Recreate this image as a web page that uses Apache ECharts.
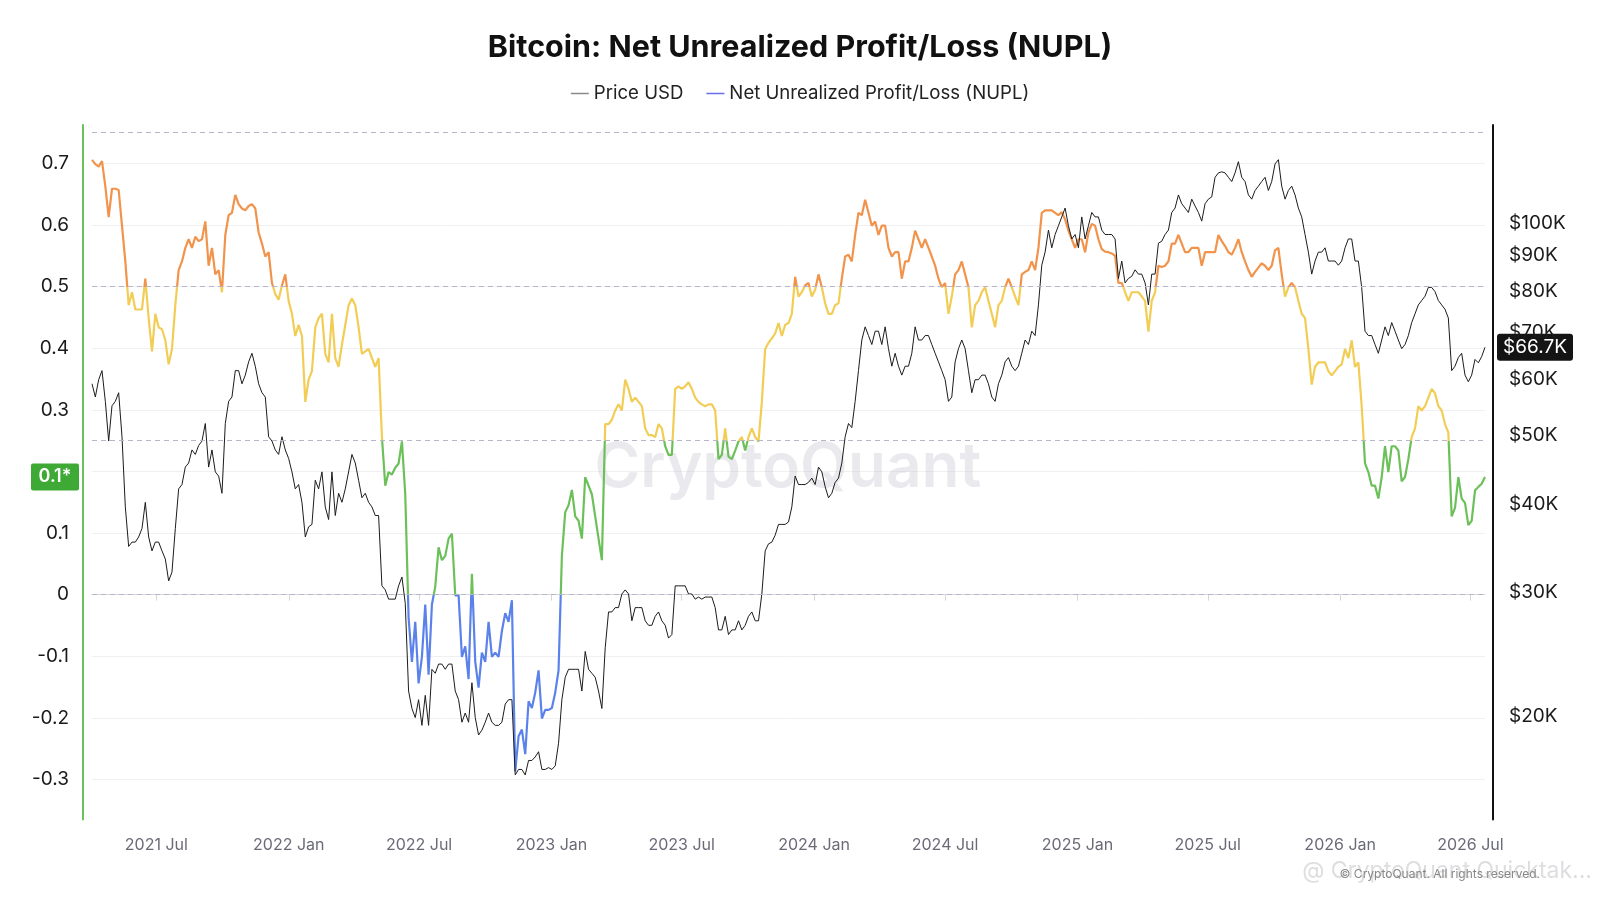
<!DOCTYPE html>
<html>
<head>
<meta charset="utf-8">
<title>Bitcoin NUPL</title>
<script src="https://cdn.jsdelivr.net/npm/echarts@6/dist/echarts.min.js"></script>
<style>
  html, body { margin: 0; padding: 0; background: #fff; }
  #chart { width: 1600px; height: 900px; }
</style>
</head>
<body>
<div id="chart"></div>
<script>
// sampling: first point 2021-04-02, one point every ~4.63 days
const startDate = Date.UTC(2021, 3, 2, 12);
const stepDays = 4.631;

// NUPL values
const nupl = [
  0.706,0.699,0.695,0.704,0.663,0.613,0.659,0.659,0.657,0.599,
  0.541,0.470,0.491,0.463,0.463,0.463,0.513,0.449,0.395,0.456,
  0.434,0.431,0.413,0.374,0.399,0.470,0.527,0.541,0.563,0.577,
  0.563,0.581,0.574,0.577,0.606,0.534,0.563,0.520,0.527,0.491,
  0.584,0.616,0.620,0.649,0.634,0.627,0.624,0.631,0.634,0.627,
  0.588,0.570,0.549,0.556,0.506,0.488,0.479,0.502,0.520,0.477,
  0.456,0.420,0.438,0.420,0.313,0.349,0.363,0.434,0.449,0.456,
  0.391,0.377,0.456,0.384,0.370,0.406,0.438,0.470,0.481,0.470,
  0.434,0.391,0.395,0.399,0.384,0.370,0.384,0.256,0.177,0.199,
  0.195,0.206,0.213,0.249,0.163,-0.037,-0.109,-0.044,-0.144,
  -0.101,-0.016,-0.130,-0.016,0.013,0.077,0.056,0.063,0.091,0.099,
  -0.001,-0.001,-0.101,-0.084,-0.137,0.034,-0.109,-0.151,-0.094,-0.109,
  -0.044,-0.101,-0.094,-0.101,-0.059,-0.030,-0.044,-0.009,-0.287,-0.230,
  -0.219,-0.259,-0.173,-0.184,-0.159,-0.123,-0.201,-0.187,-0.187,-0.184,
  -0.159,-0.123,0.063,0.134,0.145,0.170,0.127,0.120,0.091,0.191,
  0.177,0.163,0.127,0.091,0.056,0.277,0.277,0.284,0.299,0.309,
  0.299,0.349,0.334,0.313,0.320,0.313,0.306,0.270,0.259,0.259,
  0.256,0.277,0.270,0.241,0.227,0.227,0.334,0.338,0.334,0.338,
  0.345,0.334,0.320,0.313,0.309,0.306,0.309,0.309,0.299,0.220,
  0.227,0.270,0.224,0.220,0.234,0.249,0.256,0.234,0.256,0.270,
  0.256,0.249,
  0.313,0.399,0.409,0.416,0.424,0.441,0.420,0.438,0.441,0.456,
  0.516,0.484,0.491,0.502,0.506,0.484,0.495,0.520,0.499,0.473,
  0.456,0.456,0.470,0.473,0.513,0.549,0.552,0.541,0.584,0.620,
  0.616,0.641,0.620,0.599,0.606,0.584,0.599,0.599,0.563,0.549,
  0.556,0.556,0.513,0.541,0.541,0.563,0.591,0.577,0.563,0.577,
  0.563,0.549,0.534,0.513,0.499,0.506,0.456,0.484,0.520,0.527,
  0.541,0.520,0.499,0.434,0.470,0.477,0.491,0.499,0.477,0.456,
  0.434,0.470,0.477,0.499,0.513,0.499,0.484,0.470,0.520,0.524,
  0.527,0.541,0.527,0.563,0.620,0.624,0.624,0.624,0.620,0.616,
  0.621,0.609,0.591,0.577,0.563,0.577,0.577,0.556,0.588,0.602,
  0.599,0.577,
  0.561,0.557,0.556,0.554,0.550,0.506,0.506,0.491,0.477,0.491,
  0.491,0.491,0.484,0.477,0.427,0.477,0.491,0.534,0.532,0.534,
  0.541,0.570,0.570,0.584,0.570,0.556,0.556,0.563,0.563,0.563,
  0.534,0.556,0.556,0.556,0.556,0.584,0.574,0.566,0.556,0.552,
  0.563,0.577,0.556,0.541,0.527,0.516,0.524,0.531,0.538,0.534,
  0.527,0.534,0.559,0.563,0.520,0.484,0.499,0.506,0.499,0.477,
  0.456,0.449,0.399,0.341,0.370,0.377,0.377,0.377,0.363,0.356,
  0.363,0.370,0.374,0.399,0.384,0.413,0.370,0.377,0.306,0.213,
  0.199,0.177,0.177,0.156,0.191,0.241,0.199,0.241,0.241,0.234,
  0.184,0.191,0.220,0.256,0.270,0.306,0.299,0.306,0.320,0.334,
  0.327,0.306,0.299,0.277,0.263,0.127,0.141,0.191,0.156,0.149,
  0.113,0.120,0.169,0.175,0.180,0.191
];

// BTC price in thousands of USD, same dates
const priceK = [
  59.2,56.7,60.0,61.8,55.9,49.1,55.1,55.9,57.5,49.8,
  39.6,34.8,35.3,35.3,35.9,36.9,40.2,35.9,34.3,35.3,
  35.3,34.3,33.4,31.1,32.0,36.9,42.0,42.6,45.1,45.7,
  47.7,47.0,48.4,49.1,52.0,45.1,47.7,44.4,43.8,41.4,
  52.0,55.9,56.7,61.8,61.8,59.2,60.9,63.6,65.4,62.7,
  59.2,57.5,56.7,49.8,49.1,47.7,47.0,49.8,47.7,46.4,
  44.4,42.0,42.6,40.2,35.9,37.1,37.4,43.2,42.0,44.4,
  39.6,38.0,44.4,38.5,41.4,40.2,42.0,44.4,47.0,45.7,
  43.2,40.8,41.4,40.2,39.6,38.5,38.5,30.6,30.2,29.3,
  29.3,29.3,30.6,31.5,28.9,21.7,20.5,19.9,21.1,
  19.4,21.4,19.4,23.3,23.0,23.7,23.7,23.3,23.7,23.7,
  21.7,21.1,19.6,20.2,19.6,22.3,19.9,18.8,19.1,19.6,
  20.2,19.6,19.4,19.4,19.6,20.8,21.1,21.1,16.5,16.8,
  16.8,16.5,17.3,17.3,17.5,17.8,16.8,16.8,16.9,16.8,
  17.0,18.3,21.1,22.7,23.3,23.3,23.3,23.3,21.7,24.7,
  23.3,23.0,22.7,21.7,20.5,25.0,28.1,28.1,28.5,28.5,
  29.8,30.2,29.8,27.3,28.5,28.5,28.5,27.3,26.9,26.9,
  27.7,28.1,27.3,26.9,25.8,26.1,30.6,30.6,30.6,30.6,
  29.8,29.8,29.3,29.5,29.3,29.5,29.5,29.5,28.5,26.5,
  26.5,27.7,26.1,26.5,26.5,27.3,26.5,26.9,27.7,28.1,
  27.3,27.3,
  29.8,34.3,35.1,35.3,36.1,37.4,37.4,37.4,37.7,39.6,
  43.8,42.6,42.6,42.6,42.9,43.5,42.6,45.1,44.4,42.3,
  40.8,41.4,42.9,43.5,45.7,49.8,52.0,51.3,55.9,61.8,
  68.3,71.3,69.3,67.3,70.3,70.3,67.3,71.3,66.4,62.7,
  65.4,62.7,60.9,62.7,62.7,65.4,71.3,68.3,68.3,69.3,
  69.3,67.3,65.4,63.6,61.8,60.0,55.9,56.7,63.6,66.4,
  68.3,66.4,61.8,57.5,60.0,60.0,60.9,60.9,59.2,56.7,
  55.9,59.2,60.9,63.6,64.5,62.7,61.8,62.7,65.4,68.3,
  67.3,70.3,69.3,76.6,87.2,91.0,97.8,92.3,96.4,99.2,
  102.1,105.1,99.2,95.0,96.4,92.3,102.1,95.0,99.2,103.6,
  102.1,102.1,
  97.8,96.4,96.4,96.4,95.0,83.5,88.4,82.3,83.5,84.1,
  85.9,84.7,84.7,82.3,76.6,84.7,84.7,93.7,94.3,96.4,
  97.8,103.6,105.1,109.7,106.6,105.1,103.6,108.2,105.8,103.6,
  100.7,106.6,108.2,109.0,116.2,117.9,118.3,117.9,116.2,114.6,
  117.9,122.3,116.2,114.6,109.7,108.2,111.3,112.9,114.6,116.2,
  111.3,114.6,121.4,123.1,112.9,108.2,111.3,112.9,109.7,105.1,
  102.1,96.4,91.0,84.7,88.4,91.0,91.0,92.3,88.4,88.4,
  88.4,87.2,88.4,92.3,95.0,95.0,88.4,88.4,81.1,70.3,
  69.3,69.3,67.3,65.4,68.3,71.3,69.3,72.3,70.3,68.3,
  66.4,67.3,69.3,72.3,74.4,76.6,77.7,78.8,81.1,81.1,
  80.0,77.7,76.6,75.5,73.4,61.8,62.7,64.5,65.4,60.9,
  59.6,60.9,64.1,63.4,64.7,66.7
];

// axis ticks
const xTickDates = ['2021-07-01','2022-01-01','2022-07-01','2023-01-01','2023-07-01','2024-01-01',
                    '2024-07-01','2025-01-01','2025-07-01','2026-01-01','2026-07-01'];
const nuplTicks = [-0.3, -0.2, -0.1, 0, 0.1, 0.2, 0.3, 0.4, 0.5, 0.6, 0.7];
const priceTicksK = [20, 30, 40, 50, 60, 70, 80, 90, 100];
const zoneLines = [0.75, 0.5, 0.25, 0];
const lastNuplLabel = '0.1*';

const monthNames = ['Jan','Feb','Mar','Apr','May','Jun','Jul','Aug','Sep','Oct','Nov','Dec'];
const dayMs = 86400000;
const dates = nupl.map((_, i) => startDate + i * stepDays * dayMs);
const xTickVals = xTickDates.map(d => Date.parse(d + 'T00:00:00Z'));
const lg = v => Math.log10(v * 1000);

const chart = echarts.init(document.getElementById('chart'));

const option = {
    backgroundColor: '#ffffff',
    animation: false,
    textStyle: { fontFamily: 'Inter, "Noto Sans", sans-serif' },
    title: {
        text: 'Bitcoin: Net Unrealized Profit/Loss (NUPL)',
        left: 'center',
        top: 27,
        textStyle: { fontSize: 30.5, fontWeight: 'bold', color: '#111' }
    },
    legend: {
        top: 79,
        left: 'center',
        itemWidth: 18,
        itemHeight: 10,
        itemGap: 23,
        textStyle: { fontSize: 18.6, color: '#222' },
        data: [
            { name: 'Price USD', icon: 'path://M0,4 L18,4 L18,5.5 L0,5.5 Z', itemStyle: { color: '#8a8a8a' } },
            { name: 'Net Unrealized Profit/Loss (NUPL)', icon: 'path://M0,4 L18,4 L18,5.5 L0,5.5 Z', itemStyle: { color: '#6a6cf0' } }
        ]
    },
    grid: { left: 92, right: 115, top: 125, bottom: 80.5 },
    // dates kept as timestamps on a value axis so the half-year ticks can be fixed
    xAxis: {
        type: 'value',
        min: dates[0],
        max: dates[dates.length - 1],
        axisLine: { lineStyle: { color: '#d6d6de' } },
        axisTick: { customValues: xTickVals, length: 6, lineStyle: { color: '#d6d6de' } },
        axisLabel: {
            customValues: xTickVals,
            fontSize: 16,
            color: '#6b6b78',
            margin: 18,
            formatter: v => {
                const d = new Date(v);
                return d.getUTCFullYear() + ' ' + monthNames[d.getUTCMonth()];
            }
        },
        splitLine: { show: false }
    },
    yAxis: [
        {
            type: 'value',
            position: 'left',
            offset: 9,
            min: -0.365,
            max: 0.7625,
            axisLine: { show: true, lineStyle: { color: '#6cc15a', width: 2 } },
            axisTick: { show: false, customValues: nuplTicks },
            axisLabel: {
                customValues: nuplTicks.filter(v => v !== 0.2),
                fontSize: 19,
                color: '#1a1a1a',
                margin: 14,
                formatter: v => String(Math.round(v * 10) / 10)
            },
            splitLine: { show: true, lineStyle: { color: '#f0f0f3' } }
        },
        {
            type: 'value',
            position: 'right',
            offset: 8,
            min: 4.1543,
            max: 5.1394,
            axisLine: { show: true, lineStyle: { color: '#111', width: 2 } },
            axisTick: { show: false },
            axisLabel: {
                customValues: priceTicksK.map(lg),
                fontSize: 19,
                color: '#1a1a1a',
                margin: 16,
                formatter: v => '$' + Math.round(Math.pow(10, v) / 1000) + 'K'
            },
            splitLine: { show: false }
        }
    ],
    visualMap: {
        type: 'piecewise',
        show: false,
        seriesIndex: 1,
        dimension: 1,
        pieces: [
            { lt: 0, color: '#5b82ea' },
            { gte: 0, lt: 0.25, color: '#6cc05a' },
            { gte: 0.25, lt: 0.5, color: '#f2cd55' },
            { gte: 0.5, lt: 0.75, color: '#f2934c' },
            { gte: 0.75, color: '#e0533f' }
        ]
    },
    series: [
        {
            name: 'Price USD',
            type: 'line',
            yAxisIndex: 1,
            symbol: 'none',
            z: 3,
            itemStyle: { color: '#8a8a8a' },
            lineStyle: { color: '#1c1c1c', width: 1 },
            data: dates.map((d, i) => [d, lg(priceK[i])])
        },
        {
            name: 'Net Unrealized Profit/Loss (NUPL)',
            type: 'line',
            yAxisIndex: 0,
            symbol: 'none',
            z: 2,
            itemStyle: { color: '#6a6cf0' },
            lineStyle: { width: 2.2 },
            data: dates.map((d, i) => [d, nupl[i]]),
            markLine: {
                silent: true,
                symbol: ['none', 'none'],
                label: { show: false },
                lineStyle: { color: '#b6b6c8', type: [5, 4], width: 1 },
                data: zoneLines.map(v => ({ yAxis: v }))
            }
        }
    ]
};

chart.setOption(option);

// badges for the latest values, placed through the axes
const lastN = nupl[nupl.length - 1];
const lastP = priceK[priceK.length - 1];
const yN = chart.convertToPixel({ yAxisIndex: 0 }, lastN);
const yP = chart.convertToPixel({ yAxisIndex: 1 }, lg(lastP));

chart.setOption({
    graphic: [
        {
            type: 'text', x: 788, y: 468, z: 0, silent: true,
            style: { text: 'CryptoQuant', fontSize: 62, fontWeight: 600, fontFamily: 'Inter, sans-serif',
                     align: 'center', verticalAlign: 'middle', fill: 'rgba(185,185,198,0.3)' }
        },
        {
            type: 'group', left: 31, top: yN - 13.5, z: 10,
            children: [
                { type: 'rect', shape: { width: 48, height: 27, r: 2 }, style: { fill: '#3ea935' } },
                { type: 'text', x: 24, y: 13.5, style: { text: lastNuplLabel, fill: '#fff', fontSize: 18,
                  fontWeight: 600, align: 'center', verticalAlign: 'middle', fontFamily: 'Inter, sans-serif' } }
            ]
        },
        {
            type: 'group', left: 1497, top: yP - 13.5, z: 10,
            children: [
                { type: 'rect', shape: { width: 76, height: 27, r: 3 }, style: { fill: '#141414' } },
                { type: 'text', x: 38, y: 13.5, style: { text: '$' + lastP + 'K', fill: '#fff', fontSize: 19,
                  align: 'center', verticalAlign: 'middle', fontFamily: 'Inter, sans-serif' } }
            ]
        },
        {
            type: 'text', right: 8, top: 860, z: 5, silent: true,
            style: { text: '@ CryptoQuant Quicktak...', fontSize: 23, fill: 'rgba(200,200,205,0.6)',
                     fontFamily: 'Inter, sans-serif' }
        },
        {
            type: 'text', right: 60, top: 868, z: 6, silent: true,
            style: { text: '© CryptoQuant. All rights reserved.', fontSize: 12, fill: '#888',
                     fontFamily: 'Inter, sans-serif' }
        }
    ]
});
</script>
</body>
</html>
